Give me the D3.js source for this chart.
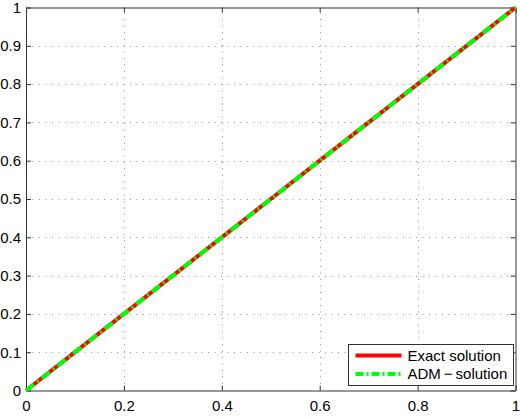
<!DOCTYPE html>
<html lang="en">
<head>
  <meta charset="UTF-8">
  <title>Exact vs ADM solution</title>
  <style>
    html, body { margin: 0; background: #fff; }
    text { font-family: 'Liberation Sans', Arial, sans-serif; fill: #000; }
  </style>
  <script src="https://cdn.jsdelivr.net/npm/d3@7"></script>
</head>
<body>
  <script>
    // canvas
    const width = 520
    const height = 417
    const margin = { left: 26, right: 4.5, top: 7.5, bottom: 26.5 }

    // data
    const xValues = [0, 0.1, 0.2, 0.3, 0.4, 0.5, 0.6, 0.7, 0.8, 0.9, 1]
    const exactValues = [0, 0.1, 0.2, 0.3, 0.4, 0.5, 0.6, 0.7, 0.8, 0.9, 1]
    const admValues = [0, 0.1, 0.2, 0.3, 0.4, 0.5, 0.6, 0.7, 0.8, 0.9, 1]
    const xTicks = [0, 0.2, 0.4, 0.6, 0.8, 1]
    const yTicks = [0, 0.1, 0.2, 0.3, 0.4, 0.5, 0.6, 0.7, 0.8, 0.9, 1]
    const legendLabels = ['Exact solution', 'ADM\u2009\u2212\u2009solution']

    const svg = d3.select('body').append('svg')
      .attr('width', width)
      .attr('height', height)

    const x = d3.scaleLinear().domain([0, 1]).range([margin.left, width - margin.right])
    const y = d3.scaleLinear().domain([0, 1]).range([height - margin.bottom, margin.top])

    // grid (sparse light dots like matlab)
    const grid = svg.append('g')
      .attr('stroke', '#999')
      .attr('stroke-width', 1)
      .attr('stroke-dasharray', '1,5.5')
    grid.selectAll('.gx').data(xTicks.slice(1, -1)).enter().append('line')
      .attr('x1', d => Math.round(x(d)) + 0.5).attr('x2', d => Math.round(x(d)) + 0.5)
      .attr('y1', y(0)).attr('y2', y(1))
    grid.selectAll('.gy').data(yTicks.slice(1, -1)).enter().append('line')
      .attr('y1', d => Math.round(y(d)) + 0.5).attr('y2', d => Math.round(y(d)) + 0.5)
      .attr('x1', x(0)).attr('x2', x(1))

    // axes, ticks pointing inward, on all four sides
    const fmt = d3.format('')
    svg.append('g')
      .attr('transform', `translate(0, ${y(0)})`)
      .call(d3.axisBottom(x).tickValues(xTicks).tickFormat(fmt).tickSizeInner(-5).tickSizeOuter(0).tickPadding(10))
    svg.append('g')
      .attr('transform', `translate(${x(0)}, 0)`)
      .call(d3.axisLeft(y).tickValues(yTicks).tickFormat(fmt).tickSizeInner(-5).tickSizeOuter(0).tickPadding(5))
    svg.append('g')
      .attr('transform', `translate(0, ${y(1)})`)
      .call(d3.axisTop(x).tickValues(xTicks).tickFormat('').tickSizeInner(-5).tickSizeOuter(0))
    svg.append('g')
      .attr('transform', `translate(${x(1)}, 0)`)
      .call(d3.axisRight(y).tickValues(yTicks).tickFormat('').tickSizeInner(-5).tickSizeOuter(0))

    svg.selectAll('.domain, .tick line').attr('stroke', '#333').attr('stroke-width', 1)
    svg.selectAll('.tick text').attr('font-size', 15).attr('fill', '#000')
      .attr('font-family', "'Liberation Sans', Arial, sans-serif")

    // lines
    const line = vals => d3.line().x((d, i) => x(xValues[i])).y(d => y(d))(vals)
    svg.append('path')
      .attr('d', line(exactValues))
      .attr('fill', 'none').attr('stroke', '#ff0000').attr('stroke-width', 4)
    svg.append('path')
      .attr('d', line(admValues))
      .attr('fill', 'none').attr('stroke', '#00ff00').attr('stroke-width', 4)
      .attr('stroke-dasharray', '10,4,2,4')

    // legend
    const lg = svg.append('g').attr('transform', 'translate(348.5, 344.5)')
    lg.append('rect').attr('width', 165).attr('height', 41)
      .attr('fill', '#fff').attr('stroke', '#333').attr('stroke-width', 1)
    const styles = [
      { color: '#ff0000', w: 4, dash: null },
      { color: '#00ff00', w: 4, dash: '8,3,2,3' }
    ]
    legendLabels.forEach((label, i) => {
      const yy = 11 + i * 18.5
      lg.append('line').attr('x1', 7).attr('x2', 53).attr('y1', yy).attr('y2', yy)
        .attr('stroke', styles[i].color).attr('stroke-width', styles[i].w)
        .attr('stroke-dasharray', styles[i].dash)
      lg.append('text').attr('x', 59).attr('y', yy).attr('dy', '0.36em')
        .attr('font-size', 15).text(label)
    })
  </script>
</body>
</html>
